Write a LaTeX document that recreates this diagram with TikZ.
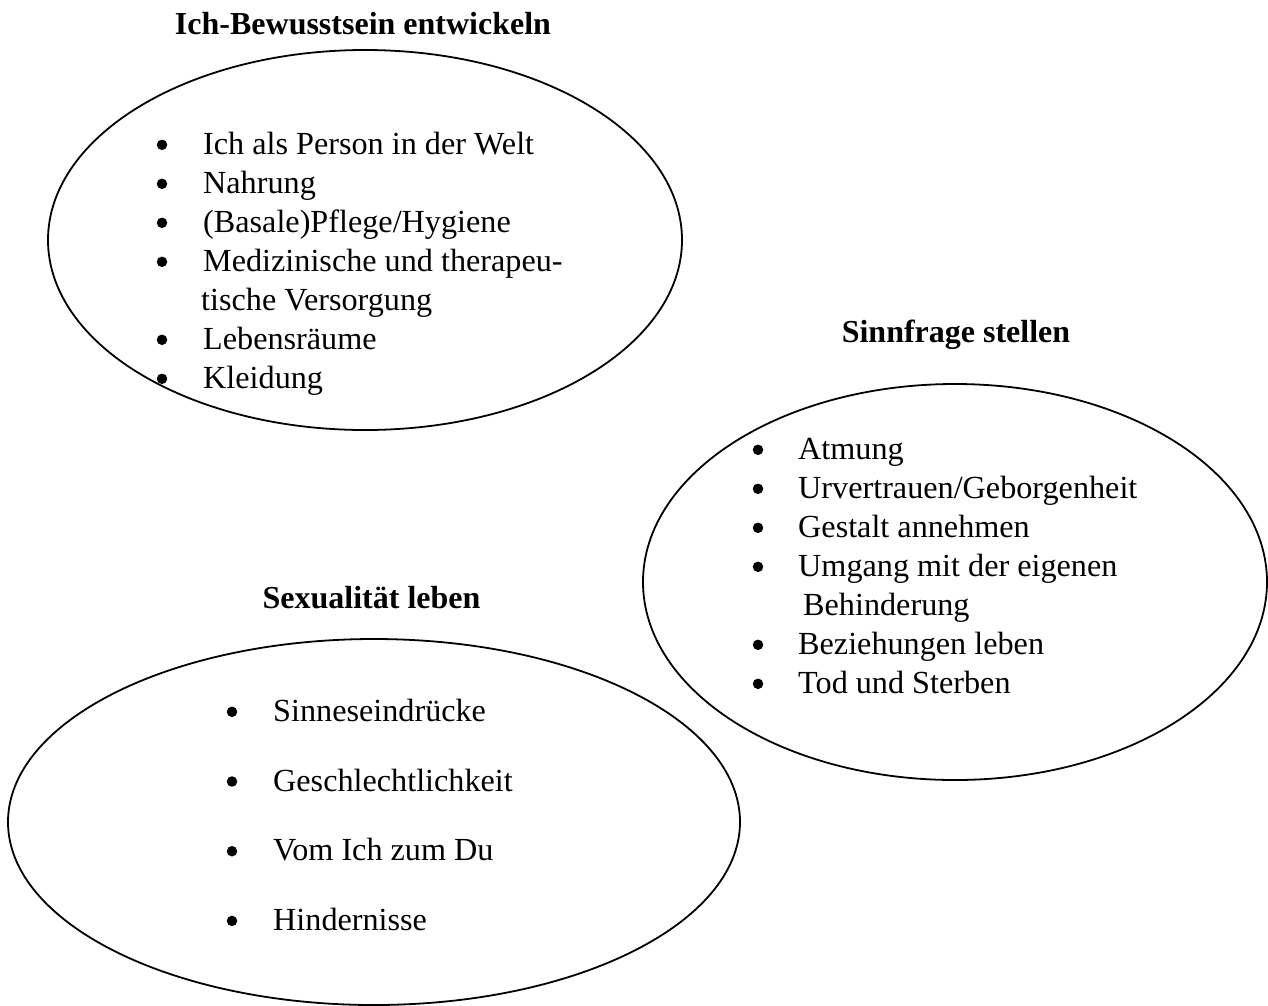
\documentclass[tikz,border=0pt]{standalone}
\usepackage{fontspec}
\setmainfont{Liberation Serif}
\usetikzlibrary{shapes.geometric}
\tikzset{
  oval/.style={draw, ellipse, line width=1.8pt, inner sep=0pt},
  itemtext/.style={anchor=base west, inner sep=0pt, font=\fontsize{32.2}{39}\selectfont},
  titletext/.style={anchor=base, inner sep=0pt, font=\fontsize{32}{39}\selectfont\bfseries},
  dot/.style={fill=black, draw=none, circle, minimum size=10.5pt, inner sep=0pt}
}
\begin{document}
\begin{tikzpicture}[x=1pt,y=-1pt]
\useasboundingbox (0,0) rectangle (1268,1005);
% ellipses
\node[oval, minimum width=634pt, minimum height=380pt] (e1) at (365,240) {};
\node[oval, minimum width=624pt, minimum height=396pt] (e2) at (955,582) {};
\node[oval, minimum width=732pt, minimum height=366pt] (e3) at (374,822) {};
% titles
\node[titletext] (t1) at (363,34.3) {Ich-Bewusstsein entwickeln};
\node[titletext] (t2) at (956,342) {Sinnfrage stellen};
\node[titletext] (t3) at (371.5,608) {Sexualität leben};
% list 1
\foreach \y/\txt [count=\i] in {154.3/Ich als Person in der Welt, 193.3/Nahrung, 232.3/(Basale)Pflege\slash Hygiene, 271.3/Medizinische und therapeu-, 349.3/Lebensräume, 388.3/Kleidung}{
  \node[dot] (b1\i) at (162,\y-9.5) {};
  \node[itemtext] (a1\i) at (203,\y) {\txt};
}
\node[itemtext] (a1x) at (201,310.3) {tische Versorgung};
% list 2
\foreach \y/\txt [count=\i] in {459.3/Atmung, 498.3/Urvertrauen\slash Geborgenheit, 537.3/Gestalt annehmen, 576.3/Umgang mit der eigenen, 654.3/Beziehungen leben, 693.3/Tod und Sterben}{
  \node[dot] (b2\i) at (758,\y-9.5) {};
  \node[itemtext] (a2\i) at (798,\y) {\txt};
}
\node[itemtext] (a2x) at (803,615.3) {Behinderung};
% list 3
\foreach \y/\txt [count=\i] in {721.3/Sinneseindrücke, 791/Geschlechtlichkeit, 860.7/Vom Ich zum Du, 930.4/Hindernisse}{
  \node[dot] (b3\i) at (232,\y-9.5) {};
  \node[itemtext] (a3\i) at (273,\y) {\txt};
}
\end{tikzpicture}
\end{document}
